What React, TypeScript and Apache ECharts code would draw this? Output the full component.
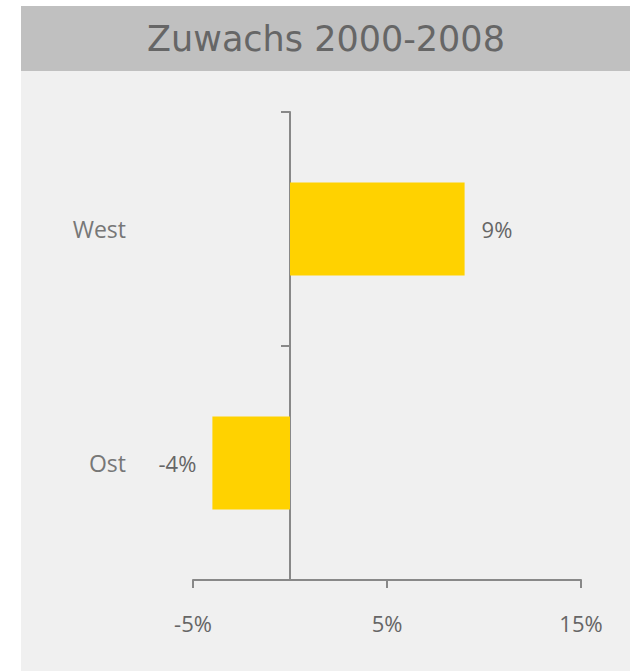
import React, { useEffect, useRef } from "react";
import * as echarts from "echarts";

const categories = ["Ost", "West"];
const values = [-4, 9];
const xTicks = [-5, 5, 15];
const title = "Zuwachs 2000-2008";

export default function App() {
  const ref = useRef<HTMLDivElement>(null);
  useEffect(() => {
    if (!ref.current) return;
    const chart = echarts.init(ref.current, null, { renderer: "svg" });
    const font = "Open Sans, Noto Sans, sans-serif";
    chart.setOption({
      animation: false,
      backgroundColor: "#ffffff",
      graphic: [
        { type: "rect", z: -10, shape: { x: 21, y: 71, width: 609, height: 600 }, style: { fill: "#f0f0f0" } },
        { type: "rect", z: -10, shape: { x: 21, y: 6, width: 609, height: 65 }, style: { fill: "#c0c0c0" } },
        {
          type: "text",
          x: 326,
          y: 39,
          style: {
            text: title,
            fill: "#666666",
            font: `35px DejaVu Sans, sans-serif`,
            align: "center",
            verticalAlign: "middle",
          },
        },
      ],
      grid: { left: 193, right: 49, top: 112, bottom: 91, containLabel: false, outerBoundsMode: "none" },
      xAxis: {
        type: "value",
        min: -5,
        max: 15,
        interval: 10,
        splitLine: { show: false },
        axisLine: { show: true, onZero: false, lineStyle: { color: "#888888", width: 2 } },
        axisTick: { show: true, length: 8, lineStyle: { color: "#888888", width: 2 } },
        axisLabel: {
          margin: 32,
          color: "#666666",
          fontSize: 22,
          fontFamily: font,
          formatter: (v: number) => (xTicks.includes(v) ? `${v}%` : ""),
        },
      },
      yAxis: {
        type: "category",
        data: categories,
        axisLine: { show: true, onZero: true, lineStyle: { color: "#888888", width: 2 } },
        axisTick: { show: true, length: 9, lineStyle: { color: "#888888", width: 2 } },
        axisLabel: {
          margin: 67,
          color: "#777777",
          fontSize: 23,
          fontFamily: font,
        },
      },
      series: [
        {
          type: "bar",
          barWidth: 93,
          itemStyle: { color: "#ffd200" },
          data: values.map((v) => ({
            value: v,
            label: { position: v >= 0 ? "right" : "left", distance: v >= 0 ? 17 : 16 },
          })),
          label: {
            show: true,
            formatter: (p: any) => `${p.value}%`,
            color: "#666666",
            fontSize: 22,
            fontFamily: font,
          },
        },
      ],
    });
    return () => chart.dispose();
  }, []);
  return <div ref={ref} style={{ position: "fixed", left: 0, top: 0, width: 630, height: 671 }} />;
}
